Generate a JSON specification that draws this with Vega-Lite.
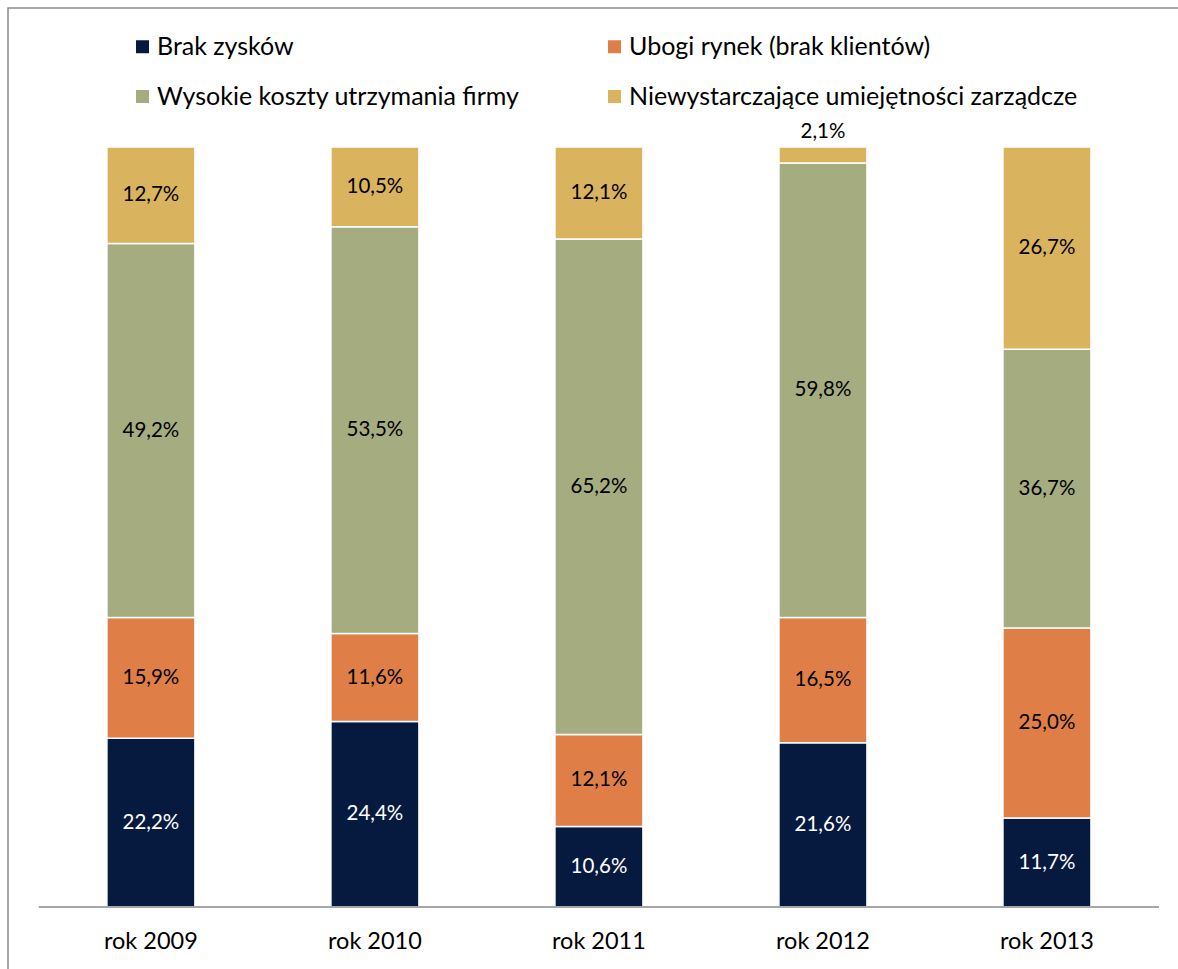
{
  "$schema": "https://vega.github.io/schema/vega-lite/v6.json",
  "width": 1200,
  "height": 975,
  "autosize": {"type": "none"},
  "padding": {"left": 8, "top": 8, "right": 0, "bottom": 0},
  "background": "white",
  "config": {
    "font": "Lato",
    "view": {"stroke": "#8C8C8C", "strokeWidth": 1.5}
  },
  "data": {
    "values": [
      {"year": "rok 2009", "cat": "Brak zysków", "idx": 0, "value": 22.2, "label": "22,2%"},
      {"year": "rok 2009", "cat": "Ubogi rynek (brak klientów)", "idx": 1, "value": 15.9, "label": "15,9%"},
      {"year": "rok 2009", "cat": "Wysokie koszty utrzymania firmy", "idx": 2, "value": 49.2, "label": "49,2%"},
      {"year": "rok 2009", "cat": "Niewystarczające umiejętności zarządcze", "idx": 3, "value": 12.7, "label": "12,7%"},
      {"year": "rok 2010", "cat": "Brak zysków", "idx": 0, "value": 24.4, "label": "24,4%"},
      {"year": "rok 2010", "cat": "Ubogi rynek (brak klientów)", "idx": 1, "value": 11.6, "label": "11,6%"},
      {"year": "rok 2010", "cat": "Wysokie koszty utrzymania firmy", "idx": 2, "value": 53.5, "label": "53,5%"},
      {"year": "rok 2010", "cat": "Niewystarczające umiejętności zarządcze", "idx": 3, "value": 10.5, "label": "10,5%"},
      {"year": "rok 2011", "cat": "Brak zysków", "idx": 0, "value": 10.6, "label": "10,6%"},
      {"year": "rok 2011", "cat": "Ubogi rynek (brak klientów)", "idx": 1, "value": 12.1, "label": "12,1%"},
      {"year": "rok 2011", "cat": "Wysokie koszty utrzymania firmy", "idx": 2, "value": 65.2, "label": "65,2%"},
      {"year": "rok 2011", "cat": "Niewystarczające umiejętności zarządcze", "idx": 3, "value": 12.1, "label": "12,1%"},
      {"year": "rok 2012", "cat": "Brak zysków", "idx": 0, "value": 21.6, "label": "21,6%"},
      {"year": "rok 2012", "cat": "Ubogi rynek (brak klientów)", "idx": 1, "value": 16.5, "label": "16,5%"},
      {"year": "rok 2012", "cat": "Wysokie koszty utrzymania firmy", "idx": 2, "value": 59.8, "label": "59,8%"},
      {"year": "rok 2012", "cat": "Niewystarczające umiejętności zarządcze", "idx": 3, "value": 2.1, "label": "2,1%"},
      {"year": "rok 2013", "cat": "Brak zysków", "idx": 0, "value": 11.7, "label": "11,7%"},
      {"year": "rok 2013", "cat": "Ubogi rynek (brak klientów)", "idx": 1, "value": 25.0, "label": "25,0%"},
      {"year": "rok 2013", "cat": "Wysokie koszty utrzymania firmy", "idx": 2, "value": 36.7, "label": "36,7%"},
      {"year": "rok 2013", "cat": "Niewystarczające umiejętności zarządcze", "idx": 3, "value": 26.6, "label": "26,7%"}
    ]
  },
  "encoding": {
    "x": {
      "field": "year",
      "type": "nominal",
      "sort": null,
      "scale": {"paddingInner": 0.6071, "paddingOuter": 0.482, "align": 0.458},
      "axis": {
        "title": null,
        "orient": "bottom",
        "offset": -76,
        "domain": false,
        "ticks": false,
        "labelAngle": 0,
        "labelPadding": 22,
        "labelFontSize": 23.5,
        "labelColor": "#000000",
        "labelFont": "Lato"
      }
    }
  },
  "layer": [
    {
      "mark": {"type": "bar", "stroke": "white", "strokeWidth": 1.5},
      "encoding": {
        "y": {
          "field": "value",
          "type": "quantitative",
          "stack": "zero",
          "scale": {"domain": [-10, 118.3], "nice": false, "zero": false},
          "axis": null
        },
        "order": {"field": "idx", "type": "quantitative", "sort": "ascending"},
        "color": {
          "field": "cat",
          "type": "nominal",
          "scale": {
            "domain": ["Brak zysków", "Ubogi rynek (brak klientów)", "Wysokie koszty utrzymania firmy", "Niewystarczające umiejętności zarządcze"],
            "range": ["#061A40", "#DF7F47", "#A5AC80", "#D9B35D"]
          },
          "legend": {
            "title": null,
            "orient": "none",
            "direction": "horizontal",
            "legendX": 122,
            "legendY": 26,
            "columns": 2,
            "columnPadding": 82,
            "rowPadding": 24,
            "padding": 0,
            "symbolType": "square",
            "symbolSize": 169,
            "symbolStrokeWidth": 0,
            "symbolOffset": 0,
            "labelOffset": 2,
            "labelFontSize": 25,
            "labelFont": "Lato",
            "labelColor": "#000000",
            "labelLimit": 700
          }
        }
      }
    },
    {
      "mark": {"type": "text", "fontSize": 20.5, "baseline": "middle", "align": "center"},
      "encoding": {
        "y": {"field": "value", "type": "quantitative", "stack": "zero", "bandPosition": 0.5},
        "order": {"field": "idx", "type": "quantitative", "sort": "ascending"},
        "text": {"condition": {"test": "datum.value >= 5", "field": "label"}, "value": ""},
        "color": {"condition": {"test": "datum.cat === 'Brak zysków'", "value": "#FFFFFF"}, "value": "#000000"}
      }
    },
    {
      "mark": {"type": "text", "fontSize": 20.5, "baseline": "middle", "align": "center", "dy": -15, "color": "#000000"},
      "encoding": {
        "y": {"field": "value", "type": "quantitative", "stack": "zero"},
        "order": {"field": "idx", "type": "quantitative", "sort": "ascending"},
        "text": {"condition": {"test": "datum.value < 5", "field": "label"}, "value": ""}
      }
    },
    {
      "mark": {"type": "tick", "size": 224, "thickness": 1.5, "color": "#A6A6A6", "opacity": 1},
      "encoding": {
        "y": {"datum": 0, "type": "quantitative"}
      }
    }
  ]
}
